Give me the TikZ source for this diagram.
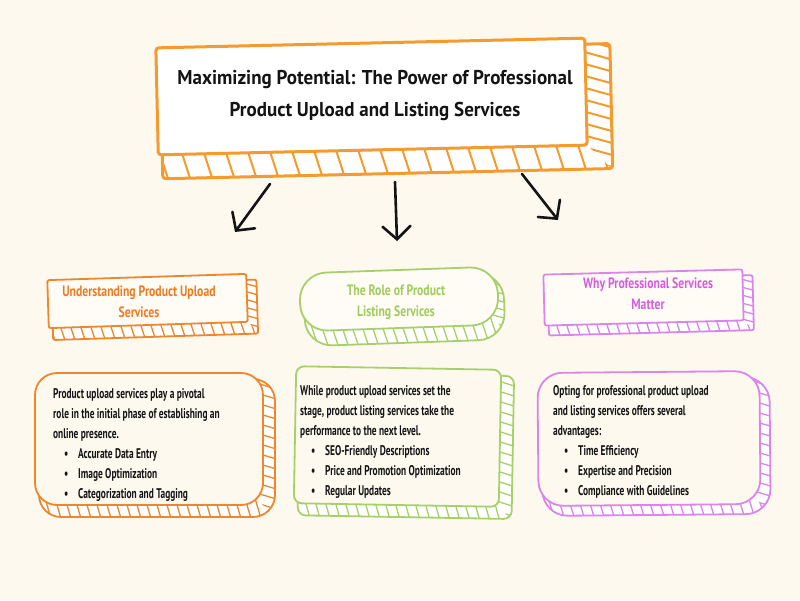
\documentclass[tikz,border=0pt]{standalone}
\usepackage{fontspec}
\setmainfont{PT Sans}
\newfontfamily\fT[FakeStretch=0.95]{PT Sans}
\newfontfamily\fH[FakeStretch=0.78]{PT Sans}
\newfontfamily\fB[FakeStretch=0.67]{PT Sans}
\usetikzlibrary{arrows.meta,calc}
\definecolor{bg}{HTML}{FDF9EF}
\definecolor{torange}{HTML}{F49B2F}
\definecolor{corange}{HTML}{F0852A}
\definecolor{torangetxt}{HTML}{EE7B20}
\definecolor{cgreen}{HTML}{A7D06A}
\definecolor{cgreentxt}{HTML}{9FCB60}
\definecolor{cpurple}{HTML}{DA85EA}
\definecolor{cpurpletxt}{HTML}{D45DE0}
\definecolor{hfill}{HTML}{FFFCF5}
\definecolor{ink}{HTML}{141414}
\newcommand{\sketchbox}[9]{%
 \begin{scope}[rotate around={\sbrot:({(#3+#5)/2},{(#4+#6)/2})}]
  \filldraw[draw=#2, fill=white, line width=\sblw, rounded corners=#9pt, line join=round] (#3+4,#4+6) rectangle (#5+#7,#6+#8);
  \begin{scope}
   \clip[rounded corners=#9pt] (#3+4,#4+6) rectangle (#5+#7,#6+#8);
   \begin{scope}
    \clip (#5-4-700,#6-4-700) -- (#5-4+300,#6-4+300) -- (#5-4-700,#6-4+300) -- cycle;
    \foreach \k in {-3,...,50} \draw[#2, line width=\sbhw] (#3-10+\k*\sbsp,#6-40) -- ++(\sbsl*80,80);
   \end{scope}
   \begin{scope}
    \clip (#5-4-700,#6-4-700) -- (#5-4+300,#6-4+300) -- (#5-4+300,#6-4-700) -- cycle;
    \foreach \k in {-3,...,30} \draw[#2, line width=\sbhw] (#5-40,#4-10+\k*\sbspr) -- ++(80,\sbslr*80);
   \end{scope}
  \end{scope}
  \node[draw=#2, fill=\sbfill, line width=\sblw, rounded corners=#9pt, inner sep=0pt, outer sep=0pt, transform shape,
        minimum width={#5-#3}, minimum height={#6-#4}, anchor=north west] (#1) at (#3,#4) {};
 \end{scope}
}
\tikzset{
  arr/.style={ink, line width=2.6pt, line cap=round, -{Straight Barb[length=13pt,width=28pt,line cap=round]}},
  titletxt/.style={font=\fT\bfseries\fontsize{20}{32}\selectfont, text=ink, align=center, inner sep=0pt},
  headtxt/.style={font=\fH\bfseries\fontsize{15}{21}\selectfont, align=center, inner sep=0pt},
  bodytxt/.style={font=\fB\bfseries\fontsize{14}{20}\selectfont, text=ink, align=left, inner sep=0pt, anchor=north west},
}
\newcommand{\bul}[1]{\hspace*{11pt}\makebox[14pt][l]{\textbullet}#1}
\begin{document}
\begin{tikzpicture}[x=1pt,y=-1pt]
\fill[bg] (0,0) rectangle (800,600);
\useasboundingbox (0,0) rectangle (800,600);

% title box
\def\sbrot{1.3}\def\sblw{3pt}\def\sbhw{2pt}\def\sbsp{22}\def\sbspr{12}\def\sbsl{0.3}\def\sbslr{0.3}\def\sbfill{white}
\sketchbox{tbox}{torange}{157}{43}{586}{150}{25}{24}{3}

% header boxes
\def\sblw{1.8pt}\def\sbhw{1.3pt}\def\sbsp{10}\def\sbspr{8}\def\sbfill{hfill}
\def\sbrot{1.8}
\sketchbox{h1}{corange}{48}{277}{247}{325}{10}{12}{2}
\def\sbrot{2}
\sketchbox{h2}{cgreen}{300}{270}{498}{328}{6}{15}{27}
\def\sbrot{1.5}
\sketchbox{h3}{cpurple}{544}{272}{743}{323}{10}{10}{2}

% body boxes
\def\sbfill{bg}\def\sbsp{10}\def\sbspr{10}
\def\sbrot{0}
\sketchbox{b1}{corange}{35}{373}{263}{505}{12}{12}{22}
\def\sbrot{-1}
\sketchbox{b2}{cgreen}{295}{368}{500}{505}{13}{12}{8}
\def\sbrot{0.5}
\sketchbox{b3}{cpurple}{538}{372}{760}{505}{10}{10}{25}

% texts
\node[titletxt] (ttl) at (375,96) {Maximizing Potential: The Power of Professional\\Product Upload and Listing Services};
\node[headtxt, text=torangetxt] (h1t) at (139,302) {Understanding Product Upload\\Services};
\node[headtxt, text=cgreentxt] (h2t) at (396,302) {The Role of Product\\Listing Services};
\node[headtxt, text=cpurpletxt] (h3t) at (648,294) {Why Professional Services\\Matter};

\node[bodytxt] (b1t) at (53,388) {Product upload services play a pivotal\\role in the initial phase of establishing an\\online presence.\\\bul{Accurate Data Entry}\\\bul{Image Optimization}\\\bul{Categorization and Tagging}};
\node[bodytxt] (b2t) at (300,385) {While product upload services set the\\stage, product listing services take the\\performance to the next level.\\\bul{SEO-Friendly Descriptions}\\\bul{Price and Promotion Optimization}\\\bul{Regular Updates}};
\node[bodytxt] (b3t) at (553,385) {Opting for professional product upload\\and listing services offers several\\advantages:\\\bul{Time Efficiency}\\\bul{Expertise and Precision}\\\bul{Compliance with Guidelines}};

% arrows
\coordinate (a1s) at (270,184); \coordinate (a1e) at (235,232);
\coordinate (a2s) at (395,182); \coordinate (a2e) at (397,241);
\coordinate (a3s) at (522,174); \coordinate (a3e) at (558,220);
\draw[arr] (a1s) -- (a1e);
\draw[arr] (a2s) -- (a2e);
\draw[arr] (a3s) -- (a3e);
\end{tikzpicture}
\end{document}
